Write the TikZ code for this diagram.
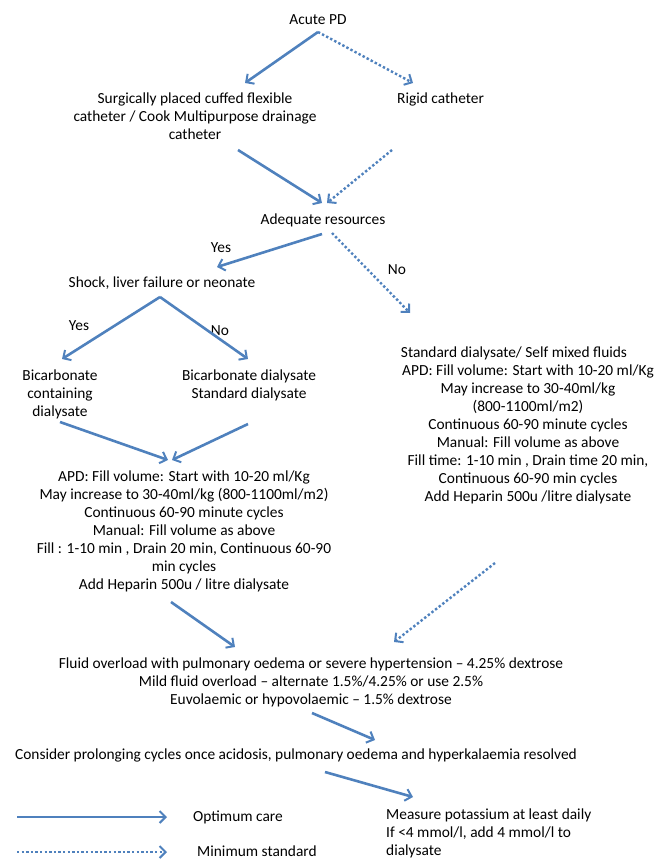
\documentclass[tikz,border=0pt]{standalone}
\usepackage{fontspec}
\setmainfont{Carlito}
\usetikzlibrary{arrows.meta}
\definecolor{pdblue}{RGB}{79,129,189}

\begin{document}
\begin{tikzpicture}[
  x=1pt, y=-1pt,
  txt/.style={inner sep=0pt, align=center, anchor=base, font=\fontsize{15.4}{18}\selectfont}, % base = last line
  lbl/.style={inner sep=0pt, anchor=base, font=\fontsize{15.4}{18}\selectfont},
  best/.style={draw=pdblue, line width=2.6pt, -{Straight Barb[length=6pt,width=12pt,line width=2pt]}}, % optimum care
  least/.style={best, line width=2.4pt, dash pattern=on 2.4pt off 2.2pt} % minimum standard
]
  \useasboundingbox (0,0) rectangle (655,861);

  % text of the chart
  \node[txt] (acute) at (318,25) {Acute PD};
  \node[txt] (surg) at (195,140) {Surgically placed cuffed flexible\\catheter / Cook Multipurpose drainage\\catheter};
  \node[lbl, anchor=base west] (rigid) at (397,104) {Rigid catheter};
  \node[txt] (adeq) at (323,224) {Adequate resources};
  \node[lbl] (yesA) at (221,252) {Yes};
  \node[lbl] (noA) at (397,274) {No};
  \node[txt] (shock) at (162,287) {Shock, liver failure or neonate};
  \node[lbl] (yesB) at (79,330) {Yes};
  \node[lbl] (noB) at (220,335) {No};
  \node[txt] (bicA) at (60,416) {Bicarbonate\\containing\\dialysate};
  \node[txt] (bicB) at (249,398) {Bicarbonate dialysate\\Standard dialysate};
  \node[txt] (std) at (528,501) {Standard dialysate/ Self mixed fluids\hspace*{28pt}\\APD: Fill volume: Start with 10-20 ml/Kg\\May increase to 30-40ml/kg\\(800-1100ml/m2)\\Continuous 60-90 minute cycles\\Manual: Fill volume as above\\Fill time: 1-10 min , Drain time 20 min,\\Continuous 60-90 min cycles\\Add Heparin 500u /litre dialysate};
  \node[txt] (apd) at (184,589) {APD: Fill volume: Start with 10-20 ml/Kg\\May increase to 30-40ml/kg (800-1100ml/m2)\\Continuous 60-90 minute cycles\\Manual: Fill volume as above\\Fill : 1-10 min , Drain 20 min, Continuous 60-90\\min cycles\\Add Heparin 500u / litre dialysate};
  \node[txt] (fluid) at (311,704) {Fluid overload with pulmonary oedema or severe hypertension -- 4.25\% dextrose\\Mild fluid overload -- alternate 1.5\%/4.25\% or use 2.5\%\\Euvolaemic or hypovolaemic -- 1.5\% dextrose};
  \node[txt] (consider) at (296,759) {Consider prolonging cycles once acidosis, pulmonary oedema and hyperkalaemia resolved};
  \node[txt, align=left, anchor=base west] (measure) at (386,855) {Measure potassium at least daily\\If <4 mmol/l, add 4 mmol/l to\\dialysate};

  % legend
  \node[lbl, anchor=base west] (optimum) at (193,821) {Optimum care};
  \node[lbl, anchor=base west] (minimum) at (197,856) {Minimum standard};

  % arrow ends
  \coordinate (acuteOut) at (318,32);
  \coordinate (surgIn) at (245,83);
  \coordinate (rigidIn) at (413,83);
  \coordinate (surgOut) at (238,150);
  \coordinate (rigidOut) at (392,150);
  \coordinate (adeqInA) at (322,203);
  \coordinate (adeqInB) at (327,203);
  \coordinate (adeqOutA) at (322,234);
  \coordinate (adeqOutB) at (332,233);
  \coordinate (shockIn) at (217,267);
  \coordinate (stdIn) at (410,313);
  \coordinate (shockOut) at (160,297);
  \coordinate (bicAIn) at (62,359);
  \coordinate (bicBIn) at (248,359);
  \coordinate (bicAOut) at (60,422);
  \coordinate (bicBOut) at (248,424);
  \coordinate (apdInA) at (168,460);
  \coordinate (apdInB) at (172,460);
  \coordinate (apdOut) at (171,602);
  \coordinate (stdOut) at (495,563);
  \coordinate (fluidInA) at (235,647);
  \coordinate (fluidInB) at (394,642);
  \coordinate (fluidOut) at (312,713);
  \coordinate (considerIn) at (375,740);
  \coordinate (considerOut) at (325,772);
  \coordinate (measureIn) at (413,797);
  \coordinate (keyA) at (17,817);
  \coordinate (keyB) at (167,817);
  \coordinate (keyC) at (17,852);
  \coordinate (keyD) at (167,852);

  \draw[best] (acuteOut) -- (surgIn);
  \draw[least] (acuteOut) -- (rigidIn);
  \draw[best] (surgOut) -- (adeqInA);
  \draw[least] (rigidOut) -- (adeqInB);
  \draw[best] (adeqOutA) -- (shockIn);
  \draw[least] (adeqOutB) -- (stdIn);
  \draw[best] (shockOut) -- (bicAIn);
  \draw[best] (shockOut) -- (bicBIn);
  \draw[best] (bicAOut) -- (apdInA);
  \draw[best] (bicBOut) -- (apdInB);
  \draw[best] (apdOut) -- (fluidInA);
  \draw[least] (stdOut) -- (fluidInB);
  \draw[best] (fluidOut) -- (considerIn);
  \draw[best] (considerOut) -- (measureIn);
  \draw[best] (keyA) -- (keyB);
  \draw[least] (keyC) -- (keyD);
\end{tikzpicture}
\end{document}
